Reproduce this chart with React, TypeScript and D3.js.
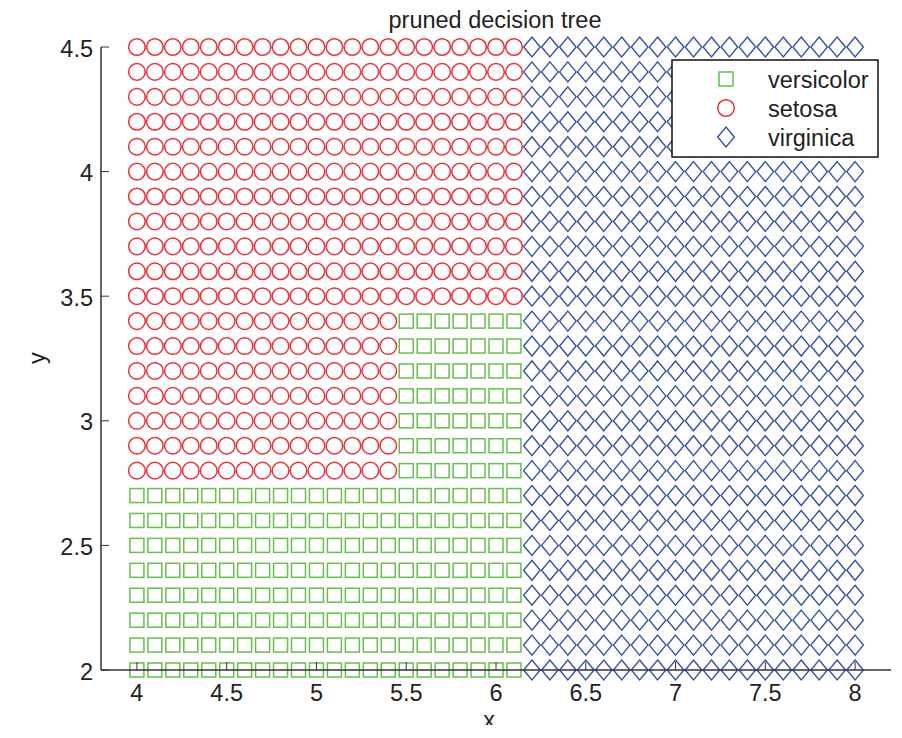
import React from 'react';
import * as d3 from 'd3';

// grid of predicted points (pruned tree output)
const xGrid = [
  4.0, 4.1, 4.2, 4.3, 4.4, 4.5, 4.6, 4.7, 4.8, 4.9,
  5.0, 5.1, 5.2, 5.3, 5.4, 5.5, 5.6, 5.7, 5.8, 5.9,
  6.0, 6.1, 6.2, 6.3, 6.4, 6.5, 6.6, 6.7, 6.8, 6.9,
  7.0, 7.1, 7.2, 7.3, 7.4, 7.5, 7.6, 7.7, 7.8, 7.9, 8.0,
];
const yGrid = [
  4.5, 4.4, 4.3, 4.2, 4.1, 4.0, 3.9, 3.8, 3.7, 3.6, 3.5,
  3.4, 3.3, 3.2, 3.1, 3.0, 2.9, 2.8,
  2.7, 2.6, 2.5, 2.4, 2.3, 2.2, 2.1, 2.0,
];

// per row (top to bottom): runs of [class, count] along xGrid
const topRuns: [string, number][] = [['setosa', 22], ['virginica', 19]];
const midRuns: [string, number][] = [['setosa', 15], ['versicolor', 7], ['virginica', 19]];
const lowRuns: [string, number][] = [['versicolor', 22], ['virginica', 19]];
const rowRuns: [string, number][][] = [
  topRuns, topRuns, topRuns, topRuns, topRuns, topRuns, topRuns, topRuns, topRuns, topRuns, topRuns,
  midRuns, midRuns, midRuns, midRuns, midRuns, midRuns, midRuns,
  lowRuns, lowRuns, lowRuns, lowRuns, lowRuns, lowRuns, lowRuns, lowRuns,
];

const legendClasses = ['versicolor', 'setosa', 'virginica'];
const xTicks = [4, 4.5, 5, 5.5, 6, 6.5, 7, 7.5, 8];
const yTicks = [2, 2.5, 3, 3.5, 4, 4.5];

const classColor: Record<string, string> = {
  versicolor: '#67bf4c',
  setosa: '#ec2f3a',
  virginica: '#3552a6',
};

const W = 902;
const H = 738;
const FONT = 'Liberation Sans, Arial, Helvetica, sans-serif';
const FS = 23.5;

const x = d3.scaleLinear().domain([3.8, 8.2]).range([101, 891]);
const y = d3.scaleLinear().domain([2, 4.5]).range([670, 47]);

const Marker = ({ cls, cx, cy }: { cls: string; cx: number; cy: number }) => {
  const c = classColor[cls];
  if (cls === 'setosa') {
    return <circle cx={cx} cy={cy} r={8.3} fill="none" stroke={c} strokeWidth={1.5} />;
  }
  if (cls === 'versicolor') {
    return <rect x={cx - 7} y={cy - 7} width={14} height={14} fill="none" stroke={c} strokeWidth={1.5} />;
  }
  const hw = 8.3;
  const hh = 10;
  return (
    <path
      d={`M${cx},${cy - hh}L${cx + hw},${cy}L${cx},${cy + hh}L${cx - hw},${cy}Z`}
      fill="none"
      stroke={c}
      strokeWidth={1.4}
    />
  );
};

export default function App() {
  const points: { cls: string; px: number; py: number; key: string }[] = [];
  rowRuns.forEach((runs, ri) => {
    let i = 0;
    runs.forEach(([cls, n]) => {
      for (let k = 0; k < n; k++, i++) {
        points.push({ cls, px: x(xGrid[i]), py: y(yGrid[ri]), key: `${ri}-${i}` });
      }
    });
  });

  const axisColor = '#333';

  return (
    <svg width={W} height={H} style={{ position: 'absolute', left: 0, top: 0, background: '#fff' }}
      fontFamily={FONT}>
      <defs>
        <clipPath id="xlabClip">
          <rect x={0} y={0} width={W} height={725} />
        </clipPath>
      </defs>
      <rect width={W} height={H} fill="#fff" />
      <text x={495} y={28} textAnchor="middle" fontSize={FS} fill="#222">pruned decision tree</text>

      {points.map((p) => (
        <Marker key={p.key} cls={p.cls} cx={p.px} cy={p.py} />
      ))}

      {/* axes */}
      <line x1={x.range()[0]} x2={x.range()[1]} y1={y(2)} y2={y(2)} stroke={axisColor} strokeWidth={1.5} />
      <line x1={x.range()[0]} x2={x.range()[0]} y1={y(2)} y2={y(4.5)} stroke={axisColor} strokeWidth={1.5} />
      {xTicks.map((t) => (
        <g key={`xt${t}`}>
          <line x1={x(t)} x2={x(t)} y1={y(2)} y2={y(2) - 8} stroke={axisColor} strokeWidth={1} />
          <text x={x(t)} y={701} textAnchor="middle" fontSize={FS} fill="#222">{t}</text>
        </g>
      ))}
      {yTicks.map((t) => (
        <g key={`yt${t}`}>
          <line x1={x.range()[0]} x2={x.range()[0] + 8} y1={y(t)} y2={y(t)} stroke={axisColor} strokeWidth={1} />
          <text x={93} y={y(t) + 9.5} textAnchor="end" fontSize={FS} fill="#222">{t}</text>
        </g>
      ))}
      <text x={489} y={728} textAnchor="middle" fontSize={FS} fill="#222" clipPath="url(#xlabClip)">x</text>
      <text transform="translate(45,358) rotate(-90)" textAnchor="middle" fontSize={FS} fill="#222">y</text>

      {/* legend */}
      <g transform="translate(672,60)">
        <rect width={206} height={97} fill="#fff" stroke="#111" strokeWidth={1.5} />
        {legendClasses.map((cls, i) => (
          <g key={cls}>
            <Marker cls={cls} cx={54} cy={19 + i * 29} />
            <text x={96} y={19 + i * 29 + 8.5} fontSize={FS} fill="#222">{cls}</text>
          </g>
        ))}
      </g>
    </svg>
  );
}
